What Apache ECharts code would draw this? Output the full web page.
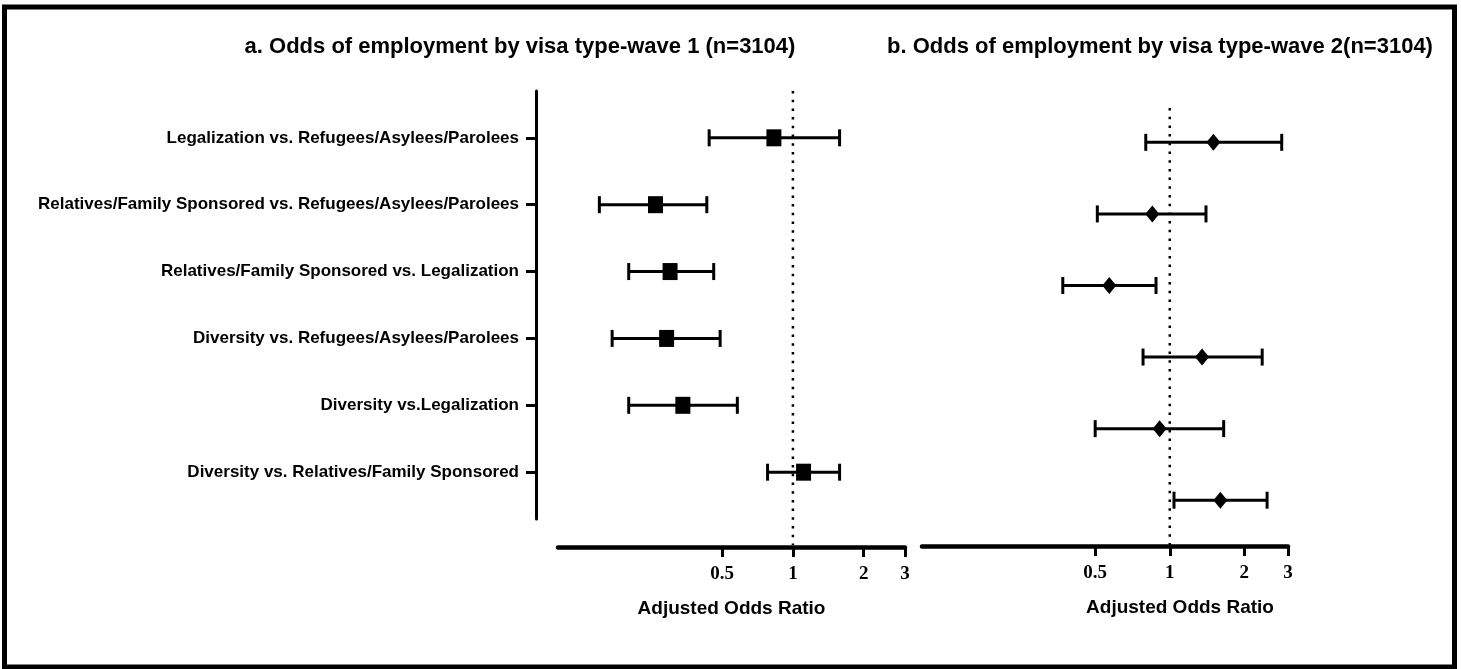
<!DOCTYPE html>
<html>
<head>
<meta charset="utf-8">
<script src="https://cdn.jsdelivr.net/npm/echarts@6/dist/echarts.min.js"></script>
<style>
  html, body { margin: 0; padding: 0; background: #fff; }
  #chart { width: 1461px; height: 669px; }
</style>
</head>
<body>
<div id="chart"></div>
<script>
// Comparisons shown on the rows (top to bottom)
const categories = [
  'Legalization vs. Refugees/Asylees/Parolees',
  'Relatives/Family Sponsored vs. Refugees/Asylees/Parolees',
  'Relatives/Family Sponsored vs. Legalization',
  'Diversity vs. Refugees/Asylees/Parolees',
  'Diversity vs.Legalization',
  'Diversity vs. Relatives/Family Sponsored'
];

// Wave 1: adjusted odds ratio with 95% CI
const wave1OR   = [0.83, 0.26, 0.30, 0.29, 0.34, 1.11];
const wave1Low  = [0.44, 0.15, 0.20, 0.17, 0.20, 0.78];
const wave1High = [1.58, 0.43, 0.46, 0.49, 0.58, 1.58];

// Wave 2: adjusted odds ratio with 95% CI
const wave2OR   = [1.50, 0.85, 0.57, 1.35, 0.91, 1.60];
const wave2Low  = [0.80, 0.51, 0.37, 0.78, 0.50, 1.04];
const wave2High = [2.83, 1.40, 0.88, 2.36, 1.65, 2.47];

// Odds-ratio ticks on the log axis
const xTicks = [0.5, 1, 2, 3];

const titles = [
  'a. Odds of employment by visa type-wave 1 (n=3104)',
  'b. Odds of employment by visa type-wave 2(n=3104)'
];
const xName = 'Adjusted Odds Ratio';

const SANS = '"Liberation Sans", Arial, sans-serif';
const SERIF = '"Liberation Serif", "Times New Roman", serif';

const rows = categories.map((_, i) => i + 1);

function pointData(or) { return or.map((v, i) => [v, i + 1]); }
function ciData(lo, hi) { return lo.map((v, i) => [v, hi[i], i + 1]); }

// Horizontal CI line with end caps
function renderCI(params, api) {
  const lo = api.coord([api.value(0), api.value(2)]);
  const hi = api.coord([api.value(1), api.value(2)]);
  const cap = 8.5;
  const style = { stroke: '#000', lineWidth: 3 };
  return {
    type: 'group',
    children: [
      { type: 'line', shape: { x1: lo[0], y1: lo[1], x2: hi[0], y2: hi[1] }, style },
      { type: 'line', shape: { x1: lo[0], y1: lo[1] - cap, x2: lo[0], y2: lo[1] + cap }, style },
      { type: 'line', shape: { x1: hi[0], y1: hi[1] - cap, x2: hi[0], y2: hi[1] + cap }, style }
    ]
  };
}

function logXAxis(gridIndex, offset, namePad) {
  return {
    type: 'log', logBase: 10, gridIndex, min: 0.1, max: 3,
    offset,
    axisLine: { show: true, lineStyle: { color: '#000', width: 4.5 } },
    axisTick: { show: true, customValues: xTicks, length: 10, inside: false,
                lineStyle: { color: '#000', width: 3 } },
    axisLabel: { customValues: xTicks, margin: 18, color: '#000',
                 fontFamily: SERIF, fontWeight: 'bold', fontSize: 19,
                 formatter: v => String(+(+v).toPrecision(3)) },
    splitLine: { show: false },
    name: xName, nameLocation: 'middle', nameGap: 52,
    nameTextStyle: { color: '#000', fontFamily: SANS, fontWeight: 'bold',
                     fontSize: 19, padding: namePad }
  };
}

const dotted = { color: '#000', width: 2.5, type: [2.5, 6.2] };

const option = {
  animation: false,
  backgroundColor: '#fff',
  graphic: [
    { type: 'rect', shape: { x: 4.5, y: 7, width: 1450, height: 660 },
      style: { fill: 'none', stroke: '#000', lineWidth: 5 }, silent: true },
    { type: 'text', x: 520, y: 47,
      style: { text: titles[0], fill: '#000', font: 'bold 22px ' + SANS,
               textAlign: 'center', textVerticalAlign: 'middle' } },
    { type: 'text', x: 1160, y: 47,
      style: { text: titles[1], fill: '#000', font: 'bold 22px ' + SANS,
               textAlign: 'center', textVerticalAlign: 'middle' } }
  ],
  grid: [
    { left: 558, width: 347, top: 91, height: 428 },
    { left: 922, width: 366, top: 108, height: 438 }
  ],
  xAxis: [
    logXAxis(0, 28, [0, 0, 0, 0]),
    logXAxis(1, 0, [0, 0, 0, 150])
  ],
  yAxis: [
    {
      type: 'value', gridIndex: 0, min: 0.3, max: 6.7, inverse: true, offset: 22,
      axisLine: { show: true, lineStyle: { color: '#000', width: 3 } },
      axisTick: { show: true, customValues: rows, length: 10,
                  lineStyle: { color: '#000', width: 3 } },
      axisLabel: { customValues: rows, margin: 17, color: '#000',
                   fontFamily: SANS, fontWeight: 'bold', fontSize: 17,
                   formatter: v => categories[Math.round(v) - 1] || '' },
      splitLine: { show: false }
    },
    {
      type: 'value', gridIndex: 1, min: 0.52, max: 6.64, inverse: true,
      axisLine: { show: false }, axisTick: { show: false },
      axisLabel: { show: false }, splitLine: { show: false }
    }
  ],
  series: [
    // reference line at OR = 1
    { type: 'line', xAxisIndex: 0, yAxisIndex: 0, data: [[1, 0.3], [1, 7.09]],
      clip: false, symbol: 'none', lineStyle: dotted, z: 1 },
    { type: 'line', xAxisIndex: 1, yAxisIndex: 1, data: [[1, 0.52], [1, 6.64]],
      clip: false, symbol: 'none', lineStyle: dotted, z: 1 },
    // confidence intervals
    { type: 'custom', xAxisIndex: 0, yAxisIndex: 0, data: ciData(wave1Low, wave1High),
      renderItem: renderCI, encode: { x: [0, 1], y: 2 }, z: 2 },
    { type: 'custom', xAxisIndex: 1, yAxisIndex: 1, data: ciData(wave2Low, wave2High),
      renderItem: renderCI, encode: { x: [0, 1], y: 2 }, z: 2 },
    // point estimates
    { type: 'scatter', xAxisIndex: 0, yAxisIndex: 0, data: pointData(wave1OR),
      symbol: 'rect', symbolSize: [15, 17], itemStyle: { color: '#000', opacity: 1 }, z: 3 },
    { type: 'scatter', xAxisIndex: 1, yAxisIndex: 1, data: pointData(wave2OR),
      symbol: 'diamond', symbolSize: [14, 17], itemStyle: { color: '#000', opacity: 1 }, z: 3 }
  ]
};

const chart = echarts.init(document.getElementById('chart'), null, { renderer: 'canvas' });
chart.setOption(option);
</script>
</body>
</html>
